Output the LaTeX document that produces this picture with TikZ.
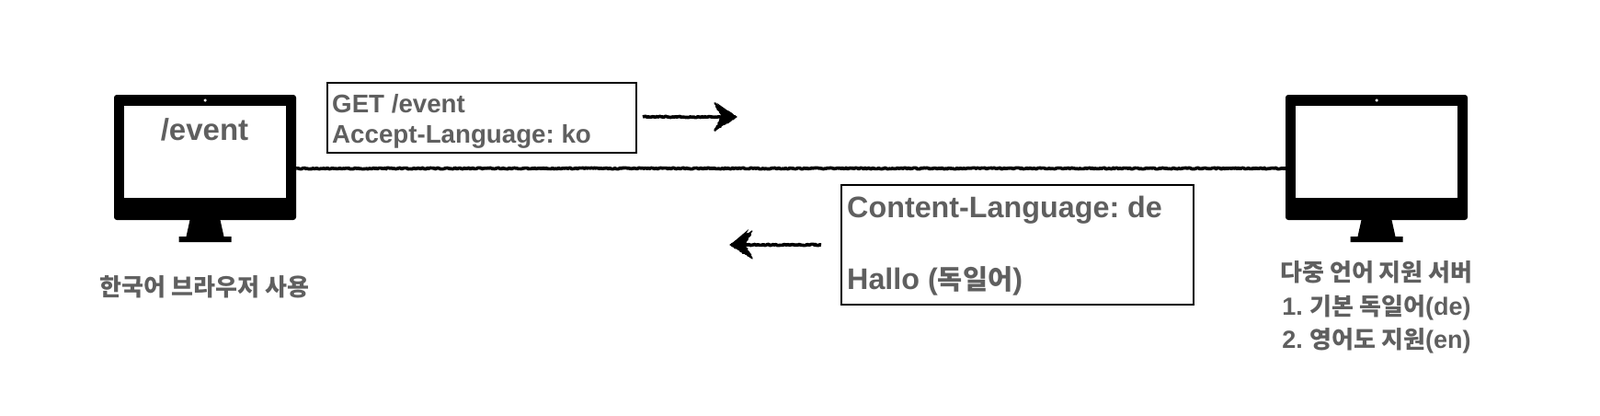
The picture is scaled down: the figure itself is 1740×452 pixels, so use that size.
\documentclass[tikz,border=0pt]{standalone}
\usepackage{fontspec}
\setmainfont{Liberation Sans}
\newfontfamily\kofont{Noto Sans CJK KR}
\frenchspacing
\usetikzlibrary{arrows.meta,decorations.pathmorphing}
\definecolor{labelgray}{HTML}{5F5F5F}
\tikzset{
  monitor/.style={fill=black,rounded corners=3pt,minimum width=198pt,minimum height=136pt,inner sep=0pt},
  screen/.style={fill=white,minimum width=176pt,minimum height=100pt,inner sep=0pt},
  camera/.style={circle,fill=white,minimum size=3.5pt,inner sep=0pt},
  msgbox/.style={draw=black,line width=2pt,fill=white,inner sep=0pt,anchor=north west},
  label/.style={text=labelgray,font=\bfseries,inner sep=0pt},
  roughline/.style={line width=3.6pt,draw=black,line join=round,decorate,decoration={random steps,segment length=1.5pt,amplitude=0.7pt}},
  rougharrow/.style={roughline,-{Stealth[length=22pt,width=28pt,inset=10pt]}},
  roughhead/.style={roughline,line width=1.2pt,fill=black}
}
\begin{document}
\begin{tikzpicture}[x=1pt,y=-1pt]
      \useasboundingbox (0,0) rectangle (1740,452);
      \foreach \name/\x in {client/223,server/1497}{
        \node[monitor] (\name) at (\x,171) {};
        \node[screen] (\name screen) at (\x,165) {};
        \node[camera] (\name cam) at (\x,109) {};
        \fill (\x-16.5,239) -- (\x+16.5,239) -- (\x+20.5,257) -- (\x+28.5,257) -- (\x+28.5,263)
          -- (\x-28.5,263) -- (\x-28.5,257) -- (\x-20.5,257) -- cycle;
      }
      % labels
      \node[label,font=\bfseries\fontsize{33}{33}\selectfont] (page) at (222.5,141) {/event};
      \node[label,font=\bfseries\kofont\fontsize{26}{36}\selectfont] (clientlabel) at (222.5,312) {한국어 브라우저 사용};
      \node[label,align=center,font=\bfseries\fontsize{27}{36.5}\selectfont] (serverlabel) at (1497,334)
        {{\kofont\fontsize{26}{36.5}\selectfont 다중 언어 지원 서버}\\1. {\kofont\fontsize{26}{36.5}\selectfont 기본 독일어}(de)\\2. {\kofont\fontsize{26}{36.5}\selectfont 영어도 지원}(en)};
      % messages
      \node[msgbox,minimum width=336pt,minimum height=76pt] (request) at (355,89) {};
      \node[label,anchor=west,align=left,font=\bfseries\fontsize{27.7}{33}\selectfont] (requesttext) at (361,132)
        {GET /event\\Accept-Language: ko};
      \node[msgbox,minimum width=383pt,minimum height=130pt] (response) at (914,199.5) {};
      \node[label,anchor=west,align=left,font=\bfseries\fontsize{32.3}{39}\selectfont] (responsetext) at (921,267)
        {Content-Language: de\\[39pt]Hallo ({\kofont\fontsize{29.5}{39}\selectfont 독일어})};
      % connectors
      \coordinate (reqfrom) at (699,127);
      \coordinate (reqto) at (801,127);
      \coordinate (resfrom) at (893,266);
      \coordinate (resto) at (794,266);
      \draw[roughline] ([yshift=-12pt]client.east) -- ([yshift=-12pt]server.west);
      \draw[rougharrow] (reqfrom) -- (reqto);
      \draw[rougharrow] (resfrom) -- (resto);
      % fuzzy heads over the tips
      \draw[roughhead] (reqto) -- ++(-24,-15) -- ++(8,15) -- ++(-8,15) -- cycle;
      \draw[roughhead] (resto) -- ++(24,-15) -- ++(-8,15) -- ++(8,15) -- cycle;
\end{tikzpicture}
\end{document}
